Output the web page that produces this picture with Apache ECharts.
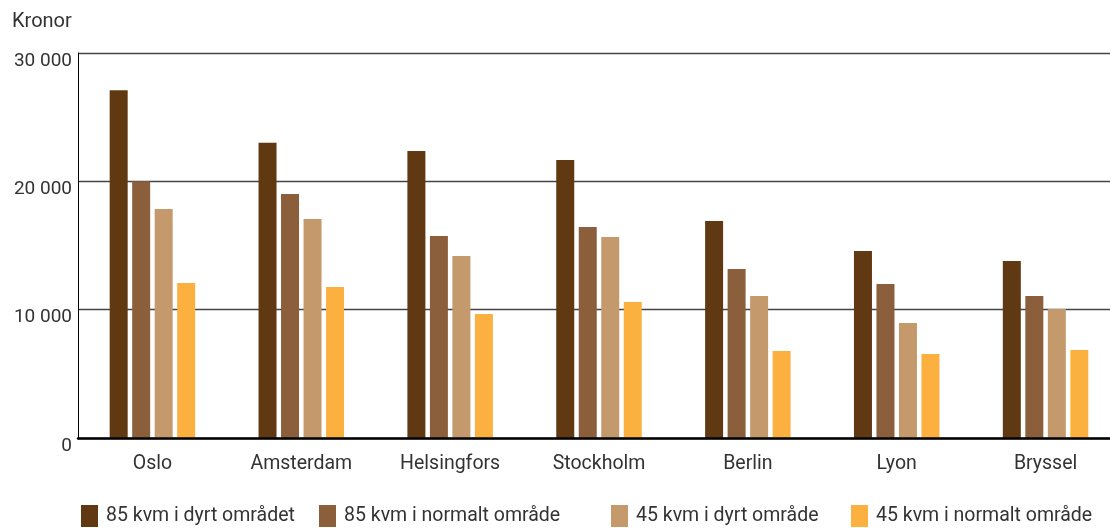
<!DOCTYPE html>
<html>
<head>
<meta charset="utf-8">
<script src="https://cdn.jsdelivr.net/npm/echarts@6/dist/echarts.min.js"></script>
<style>
html,body{margin:0;padding:0;background:#fff;}
#chart{width:1110px;height:528px;}
</style>
</head>
<body>
<div id="chart"></div>
<script>
const categories = ['Oslo','Amsterdam','Helsingfors','Stockholm','Berlin','Lyon','Bryssel'];
const seriesNames = ['85 kvm i dyrt området','85 kvm i normalt område','45 kvm i dyrt område','45 kvm i normalt område'];
const big_expensive = [27100, 23000, 22370, 21670, 16910, 14580, 13800];
const big_normal    = [20000, 19020, 15740, 16450, 13170, 12000, 11070];
const small_expensive = [17850, 17070, 14180, 15670, 11070, 8960, 10050];
const small_normal  = [12080, 11770, 9660, 10600, 6780, 6550, 6860];
const yTicks = [0, 10000, 20000, 30000];
const colors = ['#603913','#8B5E3C','#C49A6C','#FBB040'];
const legendLefts = [81, 319, 611, 851];

const FONT = 'Roboto';
const values = [big_expensive, big_normal, small_expensive, small_normal];

const chart = echarts.init(document.getElementById('chart'), null, {renderer:'canvas'});
const option = {
  animation: false,
  title: {
    text: 'Kronor', left: 12, top: 12, padding: 0,
    textStyle: {fontFamily: FONT, fontSize: 20, fontWeight: 'normal', color: '#333'}
  },
  legend: seriesNames.map((n, i) => ({
    data: [n], left: legendLefts[i], top: 505, padding: 0,
    itemWidth: 17, itemHeight: 22, itemGap: 0, icon: 'rect',
    textStyle: {fontFamily: FONT, fontSize: 19.5, color: '#333', padding: [4, 0, 0, 3]},
    selectedMode: false
  })),
  grid: {left: 78, top: 53, width: 1042, height: 385, outerBoundsMode: 'none', containLabel: false},
  xAxis: {
    type: 'category', data: categories,
    axisLine: {show: true, lineStyle: {color: '#000', width: 2.5}},
    axisTick: {show: false},
    axisLabel: {fontFamily: FONT, fontSize: 19.5, color: '#333', margin: 16},
    z: 10
  },
  yAxis: {
    type: 'value', min: 0, max: 30000, interval: 10000,
    axisLine: {show: true, lineStyle: {color: '#000', width: 1}},
    axisTick: {show: false},
    splitLine: {show: true, lineStyle: {color: '#444', width: 1.4}},
    axisLabel: {
      fontFamily: FONT, fontSize: 19, color: '#333', margin: 6,
      verticalAlign: 'top', lineHeight: 16,
      formatter: v => yTicks.includes(v) ? (v === 0 ? '0' : String(v).replace(/(\d)(?=(\d{3})+$)/g, '$1 ')) : ''
    }
  },
  series: seriesNames.map((n, i) => ({
    name: n, type: 'bar', data: values[i],
    barWidth: 18, barGap: '25%',
    itemStyle: {color: colors[i]}
  }))
};
chart.setOption(option);
</script>
</body>
</html>
